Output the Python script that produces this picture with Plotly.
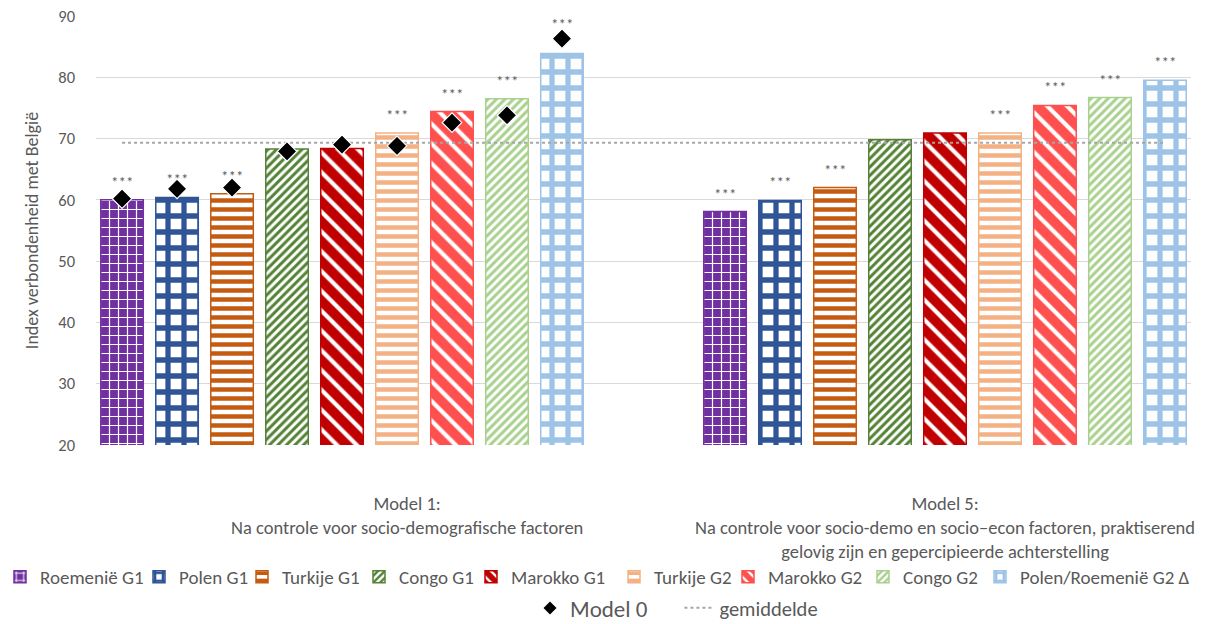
import plotly.graph_objects as go

# ---------------- data ----------------
series = ["Roemenië G1", "Polen G1", "Turkije G1", "Congo G1", "Marokko G1",
          "Turkije G2", "Marokko G2", "Congo G2", "Polen/Roemenië G2 Δ"]
model1 = [60.0, 60.4, 61.0, 68.3, 68.4, 70.9, 74.4, 76.5, 83.9]
model5 = [58.1, 59.9, 62.0, 69.8, 70.9, 70.9, 75.4, 76.7, 79.5]
model0 = [60.2, 61.8, 62.0, 67.9, 69.0, 68.8, 72.6, 73.8, 86.3]
sig1 = [1, 1, 1, 0, 0, 1, 1, 1, 1]
sig5 = [1, 1, 1, 0, 0, 1, 1, 1, 1]
gemiddelde = 69.3
group_labels = ["Model 1:<br>Na controle voor socio-demografische factoren",
                "Model 5:<br>Na controle voor socio-demo en socio\u2013econ factoren, praktiserend<br>gelovig zijn en gepercipieerde achterstelling"]
y_ticks = [20, 30, 40, 50, 60, 70, 80, 90]

# ---------------- style ----------------
colors = ["#7030A0", "#2F5597", "#C55A11", "#548235", "#C00000",
          "#F4B183", "#FF5050", "#A9D18E", "#9DC3E6"]
patterns = [  # shape, size, solidity, inverted (white lines on colour)
    ("+", 9, 0.25, True),
    ("+", 16, 0.55, False),
    ("-", 9, 0.5, False),
    ("/", 6, 0.5, False),
    ("\\", 14, 0.7, False),
    ("-", 9, 0.5, False),
    ("\\", 14, 0.7, False),
    ("/", 6, 0.5, False),
    ("+", 16, 0.55, False),
]
# legend text start (px from left) for each series entry
legend_text_px = [25, 181, 284, 401, 513, 656, 770, 905, 1022]
FONT = "Carlito, Calibri, Lato, sans-serif"
GREY = "#595959"
W, H = 1210, 624
CLEAR = "rgba(0,0,0,0)"

slot = 0.0912
bar_w = 0.0705
n = len(series)

def xpos(g, i):
    return g + (i - (n - 1) / 2) * slot

def lkey(k):
    return "legend" if k == 1 else f"legend{k}"

fig = go.Figure()
legend_layout = {}
for i, name in enumerate(series):
    shape, size, sol, inv = patterns[i]
    if inv:
        pat = dict(shape=shape, size=size, solidity=sol, fgcolor="white", bgcolor=colors[i], fillmode="replace")
    else:
        pat = dict(shape=shape, size=size, solidity=sol, fgcolor=colors[i], bgcolor="white", fillmode="replace")
    fig.add_trace(go.Bar(
        x=[xpos(0, i), xpos(1, i)], y=[model1[i], model5[i]],
        width=bar_w, name=name,
        marker=dict(color="white", pattern=pat, line=dict(color=colors[i], width=1.5)),
        legend=lkey(i + 1), showlegend=True,
    ))
    legend_layout[lkey(i + 1)] = dict(
        orientation="h", x=max(0, (legend_text_px[i] - 42) / W), xanchor="left", xref="container",
        y=(H - 577) / H, yanchor="middle", yref="container", bgcolor=CLEAR,
        font=dict(family=FONT, size=19, color=GREY), itemwidth=30)

# gemiddelde dotted line
fig.add_trace(go.Scatter(
    x=[xpos(0, 0), xpos(1, n - 1)], y=[gemiddelde, gemiddelde], mode="lines",
    line=dict(color="#A6A6A6", width=2, dash="dot"), name="gemiddelde",
    legend=lkey(11),
))
# Model 0 diamonds
fig.add_trace(go.Scatter(
    x=[xpos(0, i) for i in range(n)], y=model0, mode="markers",
    marker=dict(symbol="diamond", size=15, color="black", line=dict(color="white", width=1.2)),
    name="Model 0", legend=lkey(10), showlegend=False,
))
# legend entry for Model 0 (smaller symbol as in the reference legend)
fig.add_trace(go.Scatter(
    x=[None], y=[None], mode="markers",
    marker=dict(symbol="diamond", size=10, color="black"),
    name="Model 0", legend=lkey(10), showlegend=True,
))
legend_layout[lkey(10)] = dict(orientation="h", x=0.438, xanchor="left", xref="container",
                               y=(H - 608) / H, yanchor="middle", yref="container", bgcolor=CLEAR,
                               font=dict(family=FONT, size=23, color=GREY), itemwidth=30)
legend_layout[lkey(11)] = dict(orientation="h", x=0.5615, xanchor="left", xref="container",
                               y=(H - 608) / H, yanchor="middle", yref="container", bgcolor=CLEAR,
                               font=dict(family=FONT, size=20.5, color=GREY), itemwidth=30)

# significance stars (above the bar, or above the Model 0 diamond when that sits clearly higher)
for g, (vals, sig) in enumerate([(model1, sig1), (model5, sig5)]):
    for i in range(n):
        if not sig[i]:
            continue
        if g == 0 and model0[i] - vals[i] > 1.5:
            y_anchor, shift = model0[i], 4
        else:
            y_anchor, shift = vals[i], 7
        fig.add_annotation(x=xpos(g, i), y=y_anchor, text="***", showarrow=False,
                           yanchor="bottom", yshift=shift,
                           font=dict(family=FONT, size=15, color=GREY))

# group labels
label_x = [0.108, 1.0]
for g in range(2):
    fig.add_annotation(x=label_x[g], y=-0.105, xref="x", yref="paper", text=group_labels[g],
                       showarrow=False, yanchor="top", align="center",
                       font=dict(family=FONT, size=18.5, color=GREY))

fig.update_layout(
    width=W, height=H,
    margin=dict(l=96, r=19, t=16, b=179, autoexpand=False),
    plot_bgcolor="white", paper_bgcolor="white",
    barmode="overlay",
    font=dict(family=FONT, color=GREY),
    xaxis=dict(range=[-0.408, 1.408], showticklabels=False, showgrid=False,
               zeroline=False, showline=False, fixedrange=True, automargin=False),
    yaxis=dict(range=[20, 90], tickvals=y_ticks, showgrid=True, gridcolor="#D9D9D9",
               gridwidth=1.3, zeroline=False, showline=False, automargin=False,
               tickfont=dict(family=FONT, size=16.5, color=GREY), ticklabelstandoff=20,
               title=dict(text="Index verbondenheid met België",
                          font=dict(family=FONT, size=18, color=GREY), standoff=14)),
    showlegend=True,
    **legend_layout,
)

fig.write_html("out.html", config={"displayModeBar": False},
               post_script="document.body.style.margin='0';")
